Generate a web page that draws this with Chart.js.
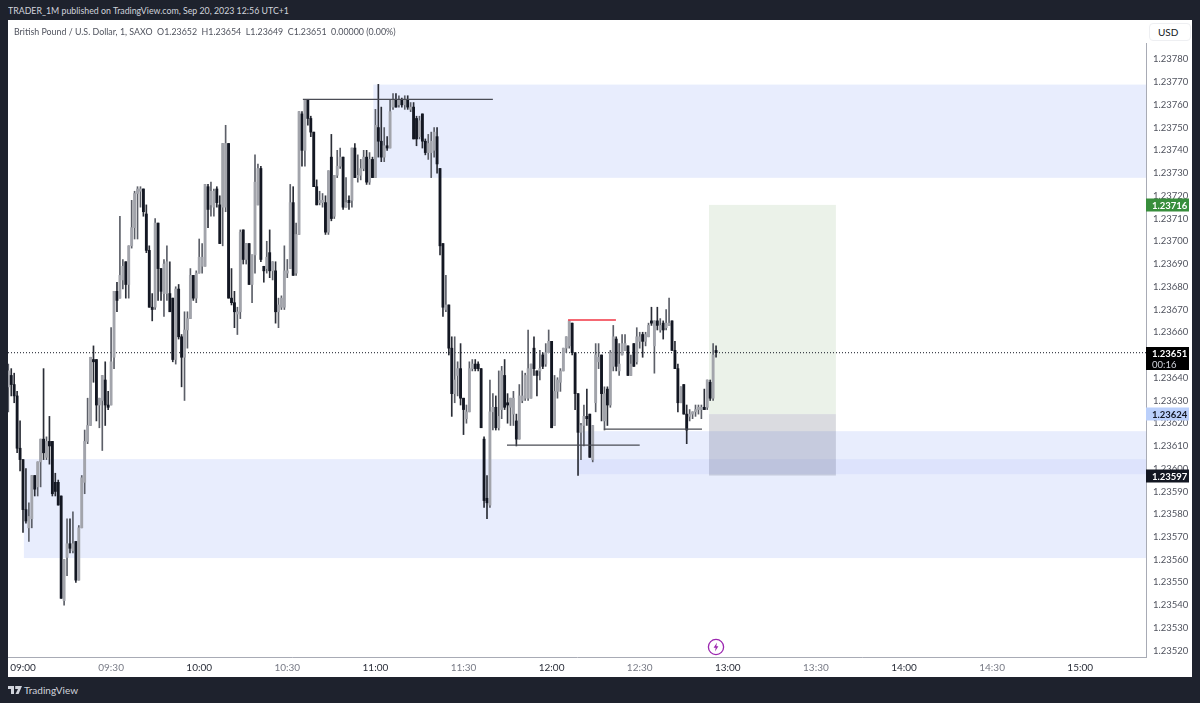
<!DOCTYPE html>
<html>
<head>
<meta charset="utf-8">
<title>GBPUSD 1m</title>
<script src="https://cdn.jsdelivr.net/npm/chart.js@4/dist/chart.umd.min.js"></script>
<style>
  html, body { margin: 0; padding: 0; background: #1e222d; width: 1200px; height: 703px; overflow: hidden; }
  body { position: relative; font-family: Lato, sans-serif; }
  #panel { position: absolute; left: 8px; top: 20px; width: 1184px; height: 657px; background: #fff; }
  canvas { position: absolute; left: 0; top: 0; }
  #published { position: absolute; left: 8px; top: 3px; font-size: 10px; line-height: 15px; color: #d1d4dc; white-space: nowrap; transform: scaleX(.88); transform-origin: left; }
  #legend { position: absolute; left: 14px; top: 24px; font-size: 10px; line-height: 14px; color: #50535e; white-space: pre; transform: scaleX(.885); transform-origin: left; }
  #usdBack { position: absolute; left: 1145px; top: 20px; width: 47px; height: 23px; background: #fff; }
  #usd { position: absolute; left: 1149px; top: 23px; width: 32px; height: 16px; padding-left: 8px; border: 1px solid #eeeff2; border-radius: 4px; background: #fff; font-size: 10px; line-height: 16px; color: #131722; }
  #bolt { position: absolute; left: 707px; top: 638px; }
  #brand { position: absolute; left: 8px; top: 684px; font-size: 10px; line-height: 12px; color: #d1d4dc; }
  #brand svg { vertical-align: -1px; margin-right: 2px; }
</style>
</head>
<body>
<div id="published">TRADER_1M published on TradingView.com, Sep 20, 2023 12:56 UTC+1</div>
<div id="panel"><canvas id="chart" width="1184" height="657"></canvas></div>
<div id="legend">British Pound / U.S. Dollar, 1, SAXO  O1.23652  H1.23654  L1.23649  C1.23651  0.00000 (0.00%)</div>
<div id="usdBack"></div>
<div id="usd">USD</div>
<svg id="bolt" width="18" height="18" viewBox="0 0 18 18">
  <circle cx="9" cy="9" r="7.6" fill="#fff" stroke="#9c27b0" stroke-width="1.3"/>
  <path d="M10 4.5 L6.6 9.8 H8.7 L8 13.5 L11.4 8.2 H9.3 Z" fill="#9c27b0"/>
</svg>
<div id="brand"><svg width="14" height="9" viewBox="0 0 14 9"><path d="M0 0H6V8H3V3H0Z M7.2 0H14L10.6 8H7.5L10 3H7.2Z" fill="#d1d4dc"/></svg>TradingView</div>

<script>
// prices are in 1/100000 above 1.2, so 23652 reads 1.23652
const firstMinute = -5; // first candle is 08:55, x axis counts minutes from 09:00

const opens = [
  23636,23641,23637,23632,23609,23604,23582,23574,23578,23597,
  23592,23603,23613,23605,23612,23612,23594,23594,23588,23542,
  23561,23567,23564,23568,23551,23574,23594,23612,23619,23648,
  23648,23628,23630,23639,23628,23628,23649,23678,23675,23683,
  23691,23681,23698,23706,23721,23722,23723,23712,23696,23671,
  23671,23708,23688,23677,23677,23677,23675,23648,23679,23658,
  23649,23661,23666,23685,23675,23686,23689,23689,23724,23716,
  23715,23723,23716,23715,23715,23743,23675,23673,23668,23669,
  23705,23692,23699,23681,23694,23716,23732,23689,23688,23695,
  23687,23687,23669,23671,23671,23686,23688,23717,23686,23703,
  23756,23740,23762,23754,23748,23724,23717,23717,23717,23704,
  23737,23711,23729,23733,23737,23715,23718,23718,23741,23728,
  23729,23732,23737,23726,23736,23728,23750,23744,23737,23742,
  23741,23759,23762,23760,23762,23760,23762,23758,23759,23754,
  23746,23756,23744,23739,23739,23740,23746,23732,23699,23670,
  23672,23653,23633,23641,23644,23631,23622,23625,23644,23646,
  23646,23644,23613,23587,23584,23625,23627,23618,23626,23641,
  23629,23627,23624,23621,23613,23630,23631,23631,23631,23653,
  23643,23643,23650,23646,23651,23656,23619,23634,23638,23643,
  23653,23654,23664,23651,23633,23616,23619,23623,23624,23604,
  23629,23647,23650,23621,23635,23628,23645,23657,23643,23650,
  23652,23654,23641,23655,23647,23656,23659,23656,23658,23665,
  23654,23665,23661,23664,23662,23663,23665,23652,23644,23629,
  23637,23624,23623,23624,23625,23626,23626,23627,23627,23638,
  23631,23652
];
const highs = [
  23646,23644,23642,23634,23621,23604,23600,23585,23597,23597,
  23603,23613,23644,23614,23623,23612,23598,23595,23588,23560,
  23578,23578,23581,23568,23575,23597,23617,23631,23649,23654,
  23648,23631,23641,23647,23634,23662,23678,23682,23711,23692,
  23691,23698,23718,23722,23724,23724,23723,23716,23698,23677,
  23710,23708,23688,23692,23698,23691,23675,23680,23681,23659,
  23669,23669,23688,23685,23687,23701,23699,23725,23725,23726,
  23723,23724,23720,23743,23751,23743,23688,23678,23671,23705,
  23705,23699,23699,23694,23738,23734,23733,23689,23700,23705,
  23691,23691,23675,23676,23698,23692,23725,23724,23708,23757,
  23757,23762,23762,23755,23748,23727,23722,23721,23720,23731,
  23747,23729,23740,23741,23737,23728,23720,23741,23743,23738,
  23736,23740,23740,23739,23737,23758,23769,23759,23750,23746,
  23762,23765,23765,23764,23763,23764,23764,23761,23761,23755,
  23755,23756,23745,23747,23748,23750,23750,23732,23699,23685,
  23672,23658,23658,23647,23655,23631,23628,23647,23648,23648,
  23647,23644,23614,23597,23639,23633,23632,23643,23645,23648,
  23633,23631,23634,23624,23637,23643,23642,23661,23646,23658,
  23643,23652,23651,23655,23661,23656,23641,23640,23644,23653,
  23658,23665,23664,23651,23633,23620,23628,23635,23624,23619,
  23655,23655,23650,23636,23636,23652,23663,23658,23655,23659,
  23659,23654,23650,23655,23662,23660,23660,23660,23664,23671,
  23665,23671,23666,23665,23670,23675,23665,23656,23646,23636,
  23637,23628,23626,23625,23628,23628,23628,23635,23639,23639,
  23655,23654
];
const lows = [
  23625,23632,23629,23607,23599,23572,23576,23568,23574,23588,
  23588,23592,23604,23604,23602,23588,23588,23584,23543,23540,
  23553,23563,23563,23550,23551,23574,23589,23611,23619,23638,
  23621,23618,23608,23619,23626,23628,23644,23669,23675,23679,
  23675,23675,23697,23701,23701,23715,23711,23695,23671,23665,
  23670,23674,23674,23667,23674,23669,23647,23646,23657,23636,
  23630,23653,23666,23674,23673,23686,23686,23689,23706,23711,
  23711,23715,23699,23698,23713,23675,23672,23662,23659,23666,
  23690,23690,23681,23673,23686,23716,23691,23682,23686,23684,
  23683,23664,23662,23670,23670,23684,23688,23685,23685,23703,
  23733,23733,23751,23746,23724,23716,23716,23715,23703,23703,
  23709,23710,23728,23732,23714,23715,23714,23715,23728,23726,
  23727,23731,23725,23725,23728,23728,23737,23735,23735,23740,
  23741,23758,23759,23759,23759,23758,23758,23757,23745,23742,
  23745,23741,23738,23736,23728,23737,23730,23694,23667,23669,
  23650,23623,23629,23632,23628,23615,23620,23625,23643,23643,
  23643,23618,23583,23578,23583,23617,23617,23617,23622,23626,
  23620,23619,23619,23610,23613,23629,23630,23630,23631,23641,
  23632,23639,23644,23645,23651,23618,23619,23631,23634,23643,
  23651,23653,23650,23626,23597,23604,23610,23619,23605,23603,
  23625,23644,23621,23617,23619,23627,23643,23643,23641,23650,
  23652,23641,23641,23645,23646,23653,23649,23654,23658,23663,
  23642,23661,23660,23657,23661,23663,23652,23644,23625,23629,
  23624,23611,23621,23622,23623,23624,23622,23626,23626,23630,
  23630,23649
];
const closes = [
  23643,23637,23632,23609,23604,23582,23577,23579,23597,23591,
  23603,23613,23607,23612,23610,23589,23590,23584,23543,23560,
  23567,23565,23567,23551,23574,23596,23612,23619,23649,23647,
  23628,23631,23641,23628,23627,23647,23678,23674,23685,23689,
  23681,23698,23706,23721,23723,23723,23713,23696,23671,23670,
  23708,23688,23678,23690,23691,23669,23648,23679,23658,23649,
  23661,23666,23685,23675,23686,23693,23693,23725,23714,23722,
  23722,23717,23699,23743,23743,23675,23673,23669,23669,23704,
  23692,23699,23681,23694,23726,23732,23692,23687,23693,23687,
  23691,23669,23672,23675,23687,23687,23717,23685,23703,23757,
  23740,23762,23754,23748,23724,23716,23718,23718,23704,23731,
  23710,23729,23733,23737,23715,23717,23717,23741,23728,23729,
  23732,23737,23726,23736,23728,23751,23744,23737,23742,23741,
  23757,23762,23759,23762,23760,23762,23759,23759,23745,23745,
  23753,23744,23739,23743,23744,23748,23734,23698,23671,23672,
  23653,23633,23639,23644,23631,23626,23625,23644,23646,23644,
  23644,23618,23586,23585,23625,23627,23618,23623,23643,23627,
  23628,23631,23631,23613,23632,23632,23641,23644,23646,23644,
  23641,23644,23645,23651,23656,23618,23634,23639,23643,23653,
  23658,23665,23651,23633,23616,23619,23623,23622,23605,23619,
  23650,23649,23633,23633,23628,23651,23658,23645,23646,23655,
  23655,23641,23646,23645,23658,23658,23656,23659,23663,23664,
  23665,23663,23663,23661,23664,23664,23652,23644,23629,23636,
  23624,23617,23624,23625,23626,23627,23627,23626,23639,23631,
  23650,23651
];

const timeTicks = [0, 30, 60, 90, 120, 150, 180, 210, 240, 270, 300, 330, 360];
const timeLabels = ['09:00','09:30','10:00','10:30','11:00','11:30','12:00','12:30','13:00','13:30','14:00','14:30','15:00'];
const priceTicks = [23520,23530,23540,23550,23560,23570,23580,23590,23600,23610,23620,23630,23640,23650,23660,23670,23680,23690,23700,23710,23720,23730,23740,23750,23760,23770,23780];

// drawn zones: start minute, low, high. they run to the right edge
// last entry is where the two lower zones overlap
const zoneStarts = [119.3, 0.3, 189, 189];
const zoneLows = [23727.9, 23560.7, 23597.6, 23597.6];
const zoneHighs = [23768.9, 23604.2, 23616.5, 23604.2];
const zoneColors = ['#e8edfd', '#e8edfd', '#e8edfd', '#dde3fc'];

// long position box
const boxMinutes = [233.6, 276.8];
const boxTarget = 23716;
const boxEntry = 23624;
const boxStop = 23597;

// drawn horizontal lines
const lineFrom = [95.3, 164.8, 197.8, 185.6];
const lineTo = [160, 210, 231.2, 201.9];
const linePrice = [23762.4, 23610.4, 23617.4, 23665.4];
const lineColors = ['#4a4c55', '#4a4c55', '#4a4c55', '#f23645'];

// right side price tags
const tagPrices = [23716, 23624, 23597];
const tagColors = ['#388e3c', '#bbd0fb', '#131722'];
const tagTextColors = ['#ffffff', '#131722', '#ffffff'];
const lastPrice = 23651;
const countdown = '00:16';

const xMin = -5.107, xMax = 382.4;
const yMin = 23517.2, yMax = 23797.3;
const AXIS_FONT = 'Lato, sans-serif';

function fmtPrice(v) {
  return (1 + v / 100000).toFixed(5);
}

const candleColor = opens.map((o, i) => closes[i] >= o ? '#a2a4ab' : '#131722');
const wickColor = opens.map((o, i) => closes[i] >= o ? '#5c5f68' : '#2a2d36');

const wickData = opens.map((o, i) => ({ x: firstMinute + i, y: [lows[i], highs[i]] }));
const bodyData = opens.map((o, i) => ({ x: firstMinute + i, y: [o, closes[i]] }));

// ---- zones and position box go under the candles ----
const zonesPlugin = {
  id: 'zones',
  beforeDatasetsDraw(chart) {
    const { ctx, chartArea, scales: { x, y } } = chart;
    ctx.save();
    ctx.beginPath();
    ctx.rect(chartArea.left, chartArea.top, chartArea.width, chartArea.height);
    ctx.clip();
    zoneStarts.forEach((s, i) => {
      ctx.fillStyle = zoneColors[i];
      const top = y.getPixelForValue(zoneHighs[i]);
      ctx.fillRect(x.getPixelForValue(s), top, chartArea.right - x.getPixelForValue(s), y.getPixelForValue(zoneLows[i]) - top);
    });
    const bx = x.getPixelForValue(boxMinutes[0]);
    const bw = x.getPixelForValue(boxMinutes[1]) - bx;
    const yT = y.getPixelForValue(boxTarget), yE = y.getPixelForValue(boxEntry), yS = y.getPixelForValue(boxStop);
    ctx.fillStyle = '#ebf2e9';
    ctx.fillRect(bx, yT, bw, yE - yT);
    ctx.globalCompositeOperation = 'multiply';
    ctx.fillStyle = '#dadbe0';
    ctx.fillRect(bx, yE, bw, yS - yE);
    ctx.restore();
  }
};

// ---- price tags on the axis ----
const tagsPlugin = {
  id: 'tags',
  afterDraw(chart) {
    const { ctx, chartArea, scales: { y } } = chart;
    const left = chartArea.right;
    ctx.save();
    ctx.textBaseline = 'middle';
    ctx.textAlign = 'left';
    tagPrices.forEach((p, i) => {
      const py = Math.round(y.getPixelForValue(p));
      ctx.fillStyle = tagColors[i];
      ctx.fillRect(left, py - 6.5, 43, 13);
      ctx.fillStyle = tagTextColors[i];
      ctx.font = '700 9.5px ' + AXIS_FONT;
      ctx.fillText(fmtPrice(p), left + 6, py + 0.5);
    });
    const ly = Math.round(y.getPixelForValue(lastPrice));
    ctx.fillStyle = '#000';
    ctx.fillRect(left, ly - 6, 43, 23);
    ctx.fillStyle = '#fff';
    ctx.font = '700 9.5px ' + AXIS_FONT;
    ctx.fillText(fmtPrice(lastPrice), left + 6, ly + 0.5);
    ctx.font = '9.5px ' + AXIS_FONT;
    ctx.fillStyle = '#d1d4dc';
    ctx.fillText(countdown, left + 6, ly + 11.5);
    ctx.restore();
  }
};

const lineDatasets = linePrice.map((p, i) => ({
  type: 'line',
  data: [{ x: lineFrom[i], y: p }, { x: lineTo[i], y: p }],
  borderColor: lineColors[i],
  borderWidth: i === 3 ? 1.6 : 1.2,
  pointRadius: 0,
  order: 1
}));

const lastLine = {
  type: 'line',
  data: [{ x: xMin, y: lastPrice }, { x: xMax, y: lastPrice }],
  borderColor: '#131722',
  borderWidth: 1,
  borderDash: [1, 2],
  pointRadius: 0,
  order: 4
};

function noOverhang(scale) {
  scale.paddingLeft = scale.paddingRight = scale.paddingTop = scale.paddingBottom = 0;
}

new Chart(document.getElementById('chart'), {
  type: 'bar',
  data: {
    datasets: [
      lastLine,
      ...lineDatasets,
      { data: bodyData, backgroundColor: candleColor, barThickness: 2.2, grouped: false, order: 2 },
      { data: wickData, backgroundColor: wickColor, barThickness: 1, grouped: false, order: 3 }
    ]
  },
  plugins: [zonesPlugin, tagsPlugin],
  options: {
    responsive: false,
    animation: false,
    devicePixelRatio: 1,
    layout: { padding: 0 },
    plugins: { legend: { display: false }, tooltip: { enabled: false } },
    scales: {
      x: {
        type: 'linear',
        offset: false,
        min: xMin,
        max: xMax,
        grid: { display: false, drawTicks: false },
        border: { color: '#a8abb5' },
        afterBuildTicks(scale) { scale.ticks = timeTicks.map(v => ({ value: v })); },
        afterFit(scale) { scale.height = 20; noOverhang(scale); },
        ticks: {
          autoSkip: false,
          maxRotation: 0,
          padding: 5,
          font: { family: AXIS_FONT, size: 10 },
          color: ctx => timeLabels[ctx.index] && timeLabels[ctx.index].endsWith(':00') ? '#2a2e39' : '#787b86',
          callback: (v, i) => timeLabels[i]
        }
      },
      y: {
        position: 'right',
        min: yMin,
        max: yMax,
        grid: { display: false, drawTicks: false },
        border: { color: '#a8abb5' },
        afterBuildTicks(scale) { scale.ticks = priceTicks.map(v => ({ value: v })); },
        afterFit(scale) { scale.width = 46; noOverhang(scale); },
        ticks: {
          autoSkip: false,
          padding: 7,
          font: { family: AXIS_FONT, size: 9.5 },
          color: '#50535e',
          callback: v => fmtPrice(v)
        }
      }
    }
  }
});
</script>
</body>
</html>
